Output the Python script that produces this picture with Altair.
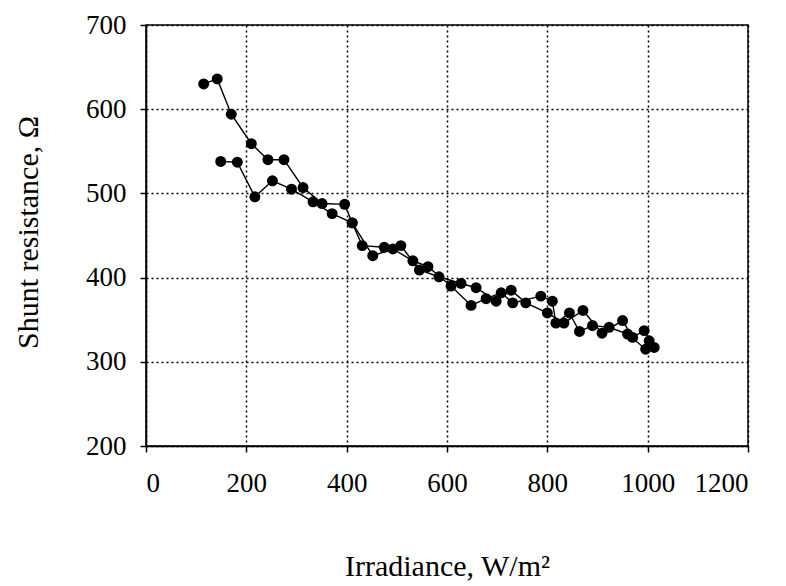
import altair as alt
import pandas as pd

# Series 1 (upper branch, starts near 630 Ω)
s1_irr = [115, 142, 170, 210, 243, 275, 313, 351, 396, 411, 431, 475, 508, 545, 584,
          628, 658, 698, 728, 757, 800, 833, 871, 909, 950, 970, 993, 1013]
s1_rsh = [630, 636, 594, 559, 540, 540, 507, 488, 487, 465, 438, 436, 438, 409, 401,
          393, 388, 372, 385, 370, 358, 346, 361, 334, 349, 329, 337, 317]

# Series 2 (lower branch, starts near 538 Ω)
s2_irr = [149, 182, 217, 252, 290, 333, 371, 411, 452, 492, 532, 562, 608, 648, 678,
          708, 731, 787, 810, 817, 844, 864, 890, 923, 960, 996, 1003]
s2_rsh = [538, 537, 496, 515, 505, 490, 476, 465, 426, 434, 420, 413, 390, 367, 375,
          382, 370, 378, 372, 346, 358, 336, 343, 341, 333, 315, 325]

x_ticks = [0, 200, 400, 600, 800, 1000, 1200]
y_ticks = [200, 300, 400, 500, 600, 700]

rows = []
for i, (a, b) in enumerate(zip(s1_irr, s1_rsh)):
    rows.append({"series": "s1", "idx": i, "irr": a, "rsh": b})
for i, (a, b) in enumerate(zip(s2_irr, s2_rsh)):
    rows.append({"series": "s2", "idx": i, "irr": a, "rsh": b})
df = pd.DataFrame(rows)

axis_common = dict(
    labelFont="Liberation Serif", labelFontSize=27, labelColor="black",
    titleFont="Liberation Serif", titleFontWeight="normal", titleColor="black",
    titleFontSize=30,
    tickColor="black", tickSize=6, tickWidth=1.5,
    domainColor="black", domainWidth=1.5,
    gridColor="black", gridDash=[2, 3], gridWidth=1.5, gridOpacity=1,
)

base = alt.Chart(df).encode(
    x=alt.X("irr:Q", scale=alt.Scale(domain=[0, 1200], nice=False, zero=False),
            axis=alt.Axis(values=x_ticks, format="d", title="Irradiance, W/m²", labelPadding=18,
                          titleY=129, titleBaseline="alphabetic", **axis_common)),
    y=alt.Y("rsh:Q", scale=alt.Scale(domain=[200, 700], nice=False, zero=False),
            axis=alt.Axis(values=y_ticks, format="d", title="Shunt resistance, Ω", labelPadding=14,
                          titleX=-109, titleY=207, titleAngle=-90, titleAlign="center",
                          titleBaseline="alphabetic", **axis_common)),
    detail="series:N",
    order="idx:Q",
)

line = base.mark_line(color="black", strokeWidth=1.4)
pts = base.mark_circle(color="black", size=120, opacity=1)

chart = (line + pts).properties(
    width=602, height=421,
    autosize=alt.AutoSizeParams(type="none"),
    padding={"left": 138, "top": 17, "right": 30, "bottom": 138},
    background="white",
).configure_view(
    stroke="black", strokeWidth=1.5
)

chart.save("out.html", embed_options={"renderer": "svg", "actions": False})
